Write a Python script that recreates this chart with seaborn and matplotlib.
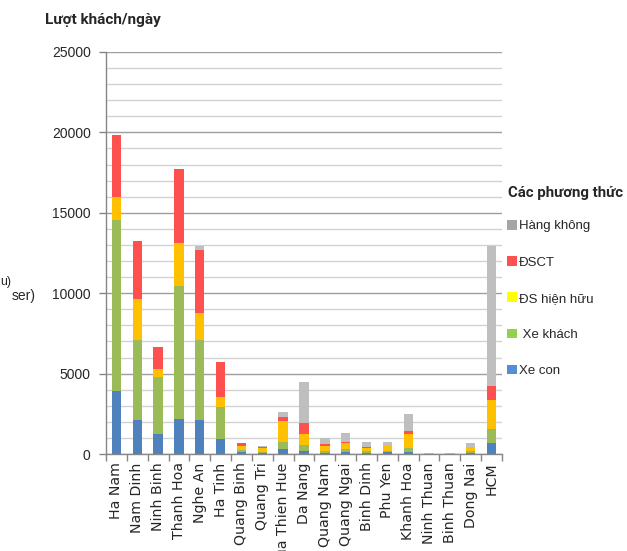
import numpy as np
import matplotlib
matplotlib.use("Agg")
import matplotlib.pyplot as plt
import seaborn as sns
from matplotlib.patches import Patch
from matplotlib.ticker import MultipleLocator

# Daily passenger trips per province, split by travel mode
provinces = ["Ha Nam", "Nam Dinh", "Ninh Binh", "Thanh Hoa", "Nghe An", "Ha Tinh",
             "Quang Binh", "Quang Tri", "Thua Thien Hue", "Da Nang", "Quang Nam",
             "Quang Ngai", "Binh Dinh", "Phu Yen", "Khanh Hoa", "Ninh Thuan",
             "Binh Thuan", "Dong Nai", "HCM"]
xe_con = [3930, 2110, 1260, 2190, 2130, 930, 100, 50, 290, 210, 80, 140, 80, 100, 120, 10, 10, 60, 660]
xe_khach = [10650, 4950, 3540, 8260, 4970, 2010, 150, 100, 470, 350, 130, 170, 110, 110, 230, 10, 10, 130, 890]
ds_hien_huu = [1400, 2570, 480, 2660, 1660, 600, 250, 230, 1270, 660, 290, 350, 200, 280, 890, 20, 20, 220, 1800]
dsct = [3830, 3620, 1380, 4610, 3930, 2160, 180, 30, 250, 690, 120, 100, 30, 30, 190, 10, 10, 40, 870]
hang_khong = [0, 0, 0, 0, 250, 0, 0, 60, 310, 2540, 360, 560, 310, 240, 1050, 0, 0, 210, 8720]

mode_names = ["Xe con", "Xe khách", "ĐS hiện hữu", "ĐSCT", "Hàng không"]
bar_colors = ["#4F81BD", "#9BBB59", "#FFC000", "#FF5050", "#BFBFBF"]
legend_colors = ["#558ED5", "#92D050", "#FFFF00", "#FF5050", "#A6A6A6"]
legend_labels = ["Xe con", " Xe khách", "ĐS hiện hữu", "ĐSCT", "Hàng không"]
y_ticks = [0, 5000, 10000, 15000, 20000, 25000]

sns.set_theme(style="white")
plt.rcParams["font.family"] = ["Liberation Sans", "DejaVu Sans"]
condensed = ["Roboto", "Liberation Sans", "DejaVu Sans"]

W, H = 627, 551
fig = plt.figure(figsize=(W / 100, H / 100), dpi=100)
ax = fig.add_axes([106 / W, 1 - 454 / H, (502 - 106) / W, (454 - 52) / H])

# cumulative tops for the stacked segments
series = [xe_con, xe_khach, ds_hien_huu, dsct, hang_khong]
tops = np.cumsum(np.array(series, dtype=float), axis=0)

# draw from the tallest stack downwards so each lower segment overlays the next
for i in reversed(range(len(series))):
    sns.barplot(x=provinces, y=tops[i], order=provinces, color=bar_colors[i],
                saturation=1, width=0.45, errorbar=None, linewidth=0, ax=ax)

ax.set_xlim(-0.5, len(provinces) - 0.5)
ax.set_ylim(0, 25000)
ax.set_yticks(y_ticks)
ax.yaxis.set_minor_locator(MultipleLocator(1000))
ax.grid(False)
ax.grid(which="major", axis="y", color="#9E9E9E", linewidth=1.0)
ax.grid(which="minor", axis="y", color="#D2D2D2", linewidth=1.0)
ax.set_axisbelow(True)

ax.set_xticks(range(len(provinces)))
ax.set_xticklabels(provinces, rotation=90, fontsize=10.2, va="top", ha="center",
                   family=["DejaVu Sans"])
ax.set_xticks(np.arange(-0.5, len(provinces), 1), minor=True)
ax.tick_params(axis="x", which="major", length=0, pad=6)
ax.tick_params(axis="x", which="minor", bottom=True, length=5, width=1, color="#868686")
ax.tick_params(axis="y", which="major", left=True, length=5, width=1, color="#868686",
               pad=6, labelsize=10)
ax.tick_params(axis="y", which="minor", left=False, length=0)
ax.set_xlabel("")
ax.set_ylabel("")

for side in ("top", "right"):
    ax.spines[side].set_visible(False)
for side in ("left", "bottom"):
    ax.spines[side].set_color("#868686")
    ax.spines[side].set_linewidth(1)

# axis title
fig.text(45 / W, 1 - 20 / H, "Lượt khách/ngày", fontsize=11, fontweight="bold",
         family=condensed, va="center", ha="left")
fig.text(0, 1 - 282 / H, "u)", fontsize=9, va="center", ha="left")
fig.text(12 / W, 1 - 296 / H, "ser)", fontsize=10, va="center", ha="left")

# legend, top entry first
handles = [Patch(facecolor=legend_colors[i], edgecolor="none") for i in reversed(range(5))]
labels = [legend_labels[i] for i in reversed(range(5))]
fig.text(508 / W, 1 - 193 / H, "Các phương thức", fontsize=10.8, fontweight="bold",
         family=condensed, va="center", ha="left")
fig.legend(handles, labels, loc="upper left", bbox_to_anchor=(507 / W, 1 - 220 / H),
           frameon=False, fontsize=9.5, handlelength=0.75, handleheight=0.75,
           handletextpad=0.15, labelspacing=1.8, borderpad=0, borderaxespad=0)

fig.savefig("out.png", dpi=100)
